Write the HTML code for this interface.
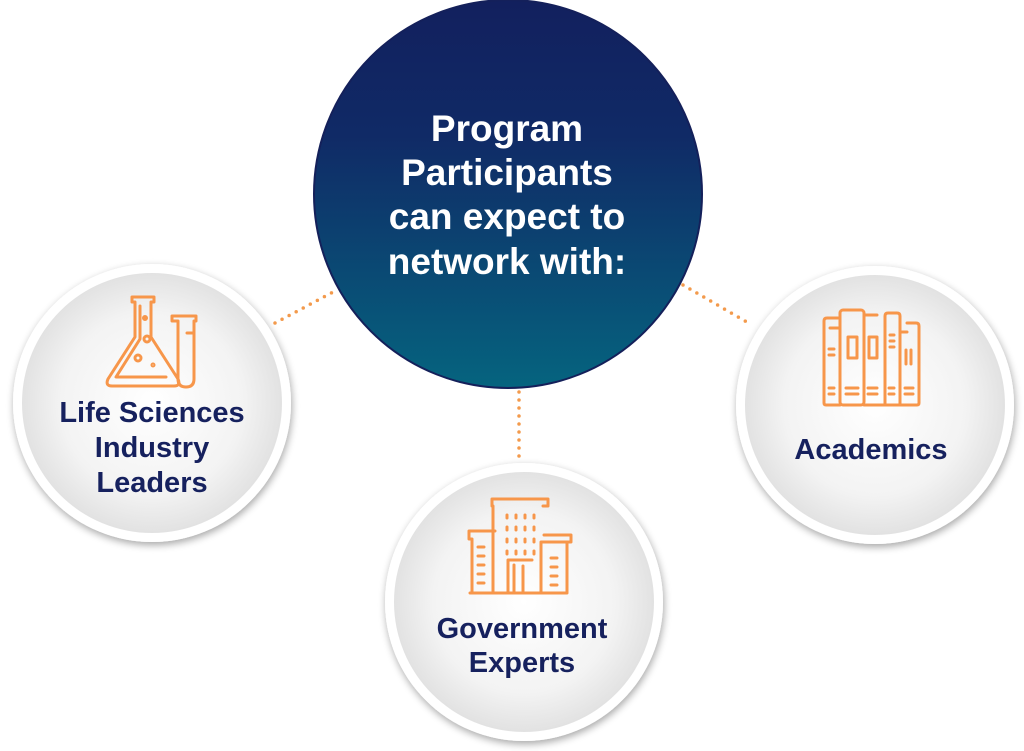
<!DOCTYPE html>
<html><head><meta charset="utf-8"><style>
html,body{margin:0;padding:0;background:#fff;}
body{width:1024px;height:751px;overflow:hidden;position:relative;font-family:"Liberation Sans",Arial,sans-serif;}
svg{position:absolute;left:0;top:0;}
</style></head><body>
<svg width="1024" height="751" viewBox="0 0 1024 751">
<defs>
<linearGradient id="cg" x1="0" y1="0" x2="0" y2="1">
<stop offset="0" stop-color="#12205e"/><stop offset="0.35" stop-color="#102a66"/><stop offset="1" stop-color="#05647f"/>
</linearGradient>
<radialGradient id="sg" cx="0.5" cy="0.5" r="0.5">
<stop offset="0" stop-color="#ffffff"/><stop offset="0.7" stop-color="#f3f3f3"/><stop offset="1" stop-color="#e2e2e2"/>
</radialGradient>
<filter id="sh" x="-20%" y="-20%" width="140%" height="140%">
<feGaussianBlur in="SourceAlpha" stdDeviation="4"/><feOffset dx="1" dy="3"/>
<feComponentTransfer><feFuncA type="linear" slope="0.35"/></feComponentTransfer>
<feMerge><feMergeNode/><feMergeNode in="SourceGraphic"/></feMerge>
</filter>
</defs>
<g stroke="#f39a4c" stroke-width="3.5" stroke-linecap="round" stroke-dasharray="0 8" fill="none">
<line x1="275" y1="323" x2="335" y2="291"/>
<line x1="683" y1="285" x2="752" y2="325"/>
<line x1="519" y1="392" x2="519" y2="460"/>
</g>
<circle cx="508" cy="194" r="194" fill="url(#cg)" stroke="#14205a" stroke-width="2"/>
<g filter="url(#sh)">
<circle cx="152" cy="403" r="139" fill="#fff"/>
<circle cx="875" cy="405" r="139" fill="#fff"/>
<circle cx="524" cy="602" r="139" fill="#fff"/>
</g>
<circle cx="152" cy="403" r="130" fill="url(#sg)"/>
<circle cx="875" cy="405" r="130" fill="url(#sg)"/>
<circle cx="524" cy="602" r="130" fill="url(#sg)"/>
<g fill="#fff" font-weight="bold" font-size="37" text-anchor="middle" font-family="Liberation Sans,Arial,sans-serif">
<text x="507" y="141">Program</text>
<text x="507" y="185">Participants</text>
<text x="507" y="229">can expect to</text>
<text x="507" y="274">network with:</text>
</g>
<g fill="#16215e" font-weight="bold" font-size="29" text-anchor="middle" font-family="Liberation Sans,Arial,sans-serif">
<text x="152" y="422">Life Sciences</text>
<text x="152" y="457">Industry</text>
<text x="152" y="492">Leaders</text>
<text x="871" y="459">Academics</text>
<text x="522" y="638">Government</text>
<text x="522" y="672">Experts</text>
</g>
<g stroke="#f7964a" stroke-width="3" fill="none" stroke-linecap="round" stroke-linejoin="round">
<!-- flask -->
<path d="M132 297h22v5h-3v35l27 42q3 7-4 7h-62q-7 0-4-7l27-42v-35h-3z"/>
<path d="M140 306v33l-24 38h50"/>
<circle cx="145" cy="318" r="1.5"/><circle cx="147" cy="339" r="3"/><circle cx="138" cy="358" r="3"/><circle cx="153" cy="365" r="1"/>
<path d="M172 316h24v5h-2v58q0 8-8 8t-8-8v-58h-6z"/><path d="M187 333h7"/>
<!-- books -->
<path d="M840 405h-14q-2 0-2-2v-82q0-3 3-3h11"/>
<path d="M830 328h9"/>
<rect x="840" y="310" width="24" height="95" rx="3"/>
<path d="M864 315h13M864 405h21v-89M885 405h15v-89q0-3-3-3h-9q-3 0-3 3M900 405h17q2 0 2-2v-77q0-3-3-3h-9M900 332h7"/>
<rect x="848" y="337" width="9" height="21"/><rect x="869" y="337" width="8" height="21"/>
<path d="M829 349h5M829 355h5M890 335h4M890 341h4M890 347h4M906 350v14M911 350v14M829 388h5M829 394h5M846 388h12M846 394h12M868 388h9M868 394h9M889 388h5M889 394h5M905 388h8M905 394h8"/>
<!-- building -->
<path d="M472 593v-54h-3v-8h26"/><path d="M493 593v-87h-1v-7h56v7h-5"/>
<path d="M541 593v-51h30v-7h-27"/><path d="M567 542v51h-97h97z"/>
<path d="M508 593v-33h24M514 593v-28M523 593v-27"/>
<path d="M507 515v3M516 515v3M525 515v3M534 515v3M507 527v3M516 527v3M525 527v3M534 527v3M507 539v3M516 539v3M525 539v3M534 539v3M507 551v3M516 551v3M525 551v3M534 551v3"/>
<path d="M478 547h6M478 556h6M478 565h6M478 574h6M478 583h6M551 558h6M551 567h6M551 576h6M551 585h6"/>
</g>
</svg>
</body></html>
